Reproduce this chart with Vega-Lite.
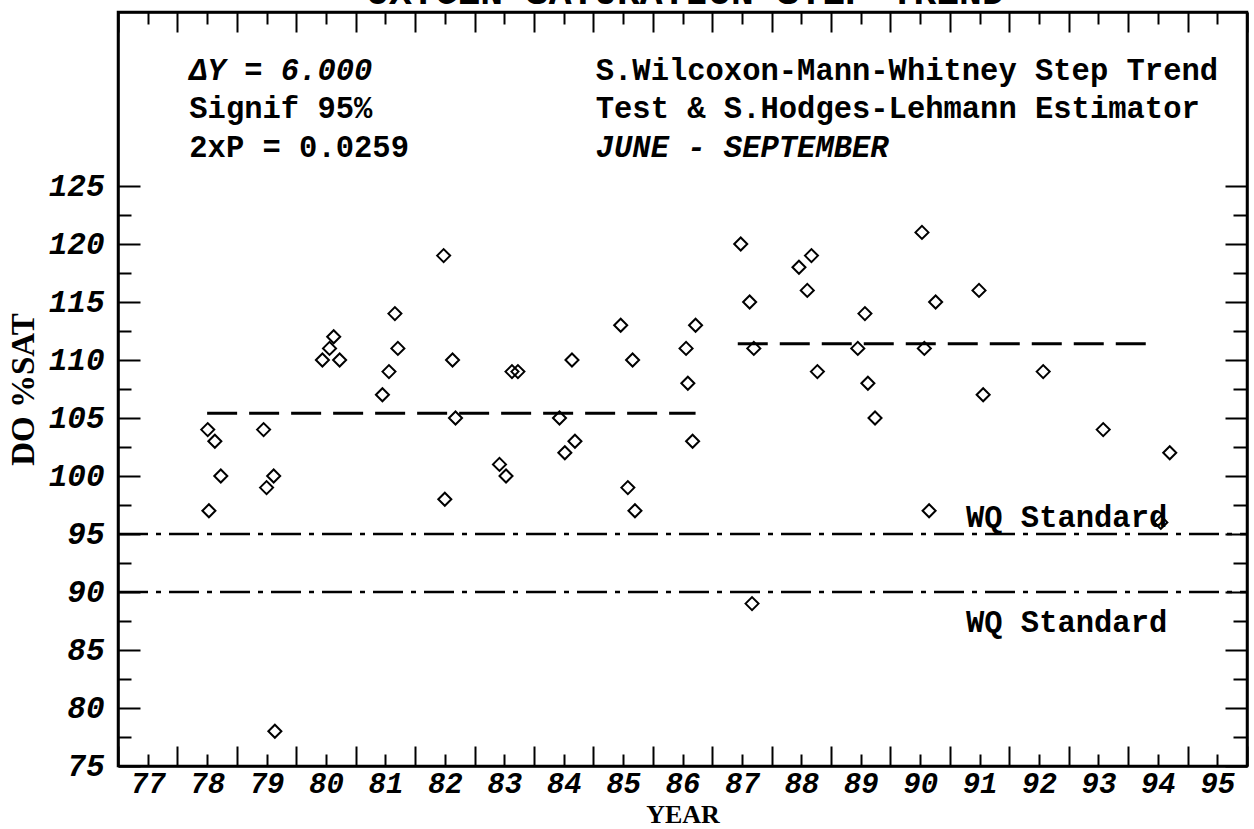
{
  "$schema": "https://vega.github.io/schema/vega-lite/v6.json",
  "autosize": {"type": "none"},
  "padding": {"left": 118, "top": 12, "right": 7, "bottom": 63},
  "width": 1129,
  "height": 754,
  "background": "white",
  "config": {
    "view": {"stroke": "black", "strokeWidth": 2.5},
    "axis": {
      "grid": false,
      "domainColor": "black",
      "domainWidth": 2.5,
      "tickColor": "black",
      "tickWidth": 2,
      "labelColor": "black",
      "titleColor": "black",
      "labelFont": "Liberation Mono",
      "labelFontStyle": "italic",
      "labelFontWeight": "bold",
      "labelFontSize": 31,
      "labelOverlap": false,
      "labelFlush": false,
      "titleFont": "Liberation Serif",
      "titleFontWeight": "bold"
    }
  },
  "datasets": {
    "pts": [
      {"year": 78.01, "sat": 104}, {"year": 78.13, "sat": 103}, {"year": 78.23, "sat": 100}, {"year": 78.03, "sat": 97},
      {"year": 78.95, "sat": 104}, {"year": 79.0, "sat": 99}, {"year": 79.12, "sat": 100}, {"year": 79.14, "sat": 78},
      {"year": 79.94, "sat": 110}, {"year": 80.06, "sat": 111}, {"year": 80.13, "sat": 112}, {"year": 80.23, "sat": 110},
      {"year": 80.95, "sat": 107}, {"year": 81.06, "sat": 109}, {"year": 81.16, "sat": 114}, {"year": 81.21, "sat": 111},
      {"year": 81.98, "sat": 119}, {"year": 82.0, "sat": 98}, {"year": 82.13, "sat": 110}, {"year": 82.18, "sat": 105},
      {"year": 82.92, "sat": 101}, {"year": 83.03, "sat": 100}, {"year": 83.13, "sat": 109}, {"year": 83.23, "sat": 109},
      {"year": 83.93, "sat": 105}, {"year": 84.02, "sat": 102}, {"year": 84.14, "sat": 110}, {"year": 84.19, "sat": 103},
      {"year": 84.96, "sat": 113}, {"year": 85.08, "sat": 99}, {"year": 85.16, "sat": 110}, {"year": 85.2, "sat": 97},
      {"year": 86.06, "sat": 111}, {"year": 86.09, "sat": 108}, {"year": 86.17, "sat": 103}, {"year": 86.22, "sat": 113},
      {"year": 86.98, "sat": 120}, {"year": 87.13, "sat": 115}, {"year": 87.2, "sat": 111}, {"year": 87.17, "sat": 89},
      {"year": 87.96, "sat": 118}, {"year": 88.1, "sat": 116}, {"year": 88.17, "sat": 119}, {"year": 88.27, "sat": 109},
      {"year": 88.95, "sat": 111}, {"year": 89.07, "sat": 114}, {"year": 89.12, "sat": 108}, {"year": 89.24, "sat": 105},
      {"year": 90.03, "sat": 121}, {"year": 90.07, "sat": 111}, {"year": 90.15, "sat": 97}, {"year": 90.26, "sat": 115},
      {"year": 90.99, "sat": 116}, {"year": 91.06, "sat": 107},
      {"year": 92.07, "sat": 109},
      {"year": 93.08, "sat": 104},
      {"year": 94.05, "sat": 96}, {"year": 94.2, "sat": 102}
    ],
    "step": [
      {"start": 78.0, "end": 86.22, "level": 105.4},
      {"start": 86.93, "end": 93.99, "level": 111.4}
    ],
    "standard": [
      {"start": 76.5, "end": 95.5, "level": 95},
      {"start": 76.5, "end": 95.5, "level": 90}
    ],
    "notesItalic": [
      {"year": 77.7, "value": 134.14, "text": "ΔY = 6.000"},
      {"year": 84.54, "value": 127.5, "text": "JUNE - SEPTEMBER"}
    ],
    "notes": [
      {"year": 77.7, "value": 130.86, "text": "Signif 95%"},
      {"year": 77.7, "value": 127.5, "text": "2xP = 0.0259"},
      {"year": 84.54, "value": 134.14, "text": "S.Wilcoxon-Mann-Whitney Step Trend"},
      {"year": 84.54, "value": 130.86, "text": "Test & S.Hodges-Lehmann Estimator"},
      {"year": 90.77, "value": 95.6, "text": "WQ Standard"},
      {"year": 90.77, "value": 86.55, "text": "WQ Standard"}
    ],
    "heading": [
      {"year": 86.05, "value": 140.7, "text": "OXYGEN SATURATION STEP TREND"}
    ]
  },
  "resolve": {"axis": {"x": "independent", "y": "independent"}},
  "layer": [
    {
      "data": {"name": "pts"},
      "mark": {"type": "point", "shape": "diamond", "filled": false, "stroke": "black", "strokeWidth": 2, "size": 170, "opacity": 1},
      "encoding": {
        "x": {
          "field": "year", "type": "quantitative",
          "scale": {"domain": [76.5, 95.5], "nice": false, "zero": false},
          "axis": {
            "orient": "bottom",
            "title": "YEAR",
            "titleFontSize": 26,
            "titlePadding": 3,
            "values": [76.5, 77, 77.5, 78, 78.5, 79, 79.5, 80, 80.5, 81, 81.5, 82, 82.5, 83, 83.5, 84, 84.5, 85, 85.5, 86, 86.5, 87, 87.5, 88, 88.5, 89, 89.5, 90, 90.5, 91, 91.5, 92, 92.5, 93, 93.5, 94, 94.5, 95, 95.5],
            "labelExpr": "datum.value % 1 === 0 ? format(datum.value, 'd') : ''",
            "labelFontSize": 29,
            "tickSize": {"condition": {"test": "datum.value % 1 !== 0", "value": -20}, "value": -12},
            "labelPadding": 15
          }
        },
        "y": {
          "field": "sat", "type": "quantitative",
          "scale": {"domain": [75, 140], "nice": false, "zero": false},
          "axis": {
            "orient": "left",
            "title": "DO %SAT",
            "titleFontSize": 33,
            "titlePadding": 8,
            "values": [75, 77.5, 80, 82.5, 85, 87.5, 90, 92.5, 95, 97.5, 100, 102.5, 105, 107.5, 110, 112.5, 115, 117.5, 120, 122.5, 125],
            "labelExpr": "datum.value % 5 === 0 ? format(datum.value, 'd') : ''",
            "tickSize": {"condition": {"test": "datum.value % 5 === 0", "value": -22}, "value": -13},
            "labelPadding": 36
          }
        }
      }
    },
    {
      "data": {"name": "standard"},
      "mark": {"type": "rule", "stroke": "black", "strokeWidth": 2.5, "strokeDash": [30, 8, 5, 8]},
      "encoding": {
        "x": {
          "field": "start", "type": "quantitative",
          "axis": {
            "orient": "top", "title": null, "labels": false,
            "values": [76.5, 77, 77.5, 78, 78.5, 79, 79.5, 80, 80.5, 81, 81.5, 82, 82.5, 83, 83.5, 84, 84.5, 85, 85.5, 86, 86.5, 87, 87.5, 88, 88.5, 89, 89.5, 90, 90.5, 91, 91.5, 92, 92.5, 93, 93.5, 94, 94.5, 95, 95.5],
            "tickSize": {"condition": {"test": "datum.value % 1 !== 0", "value": -20}, "value": -12}
          }
        },
        "x2": {"field": "end"},
        "y": {
          "field": "level", "type": "quantitative",
          "axis": {
            "orient": "right", "title": null, "labels": false,
            "values": [75, 77.5, 80, 82.5, 85, 87.5, 90, 92.5, 95, 97.5, 100, 102.5, 105, 107.5, 110, 112.5, 115, 117.5, 120, 122.5, 125],
            "tickSize": {"condition": {"test": "datum.value % 5 === 0", "value": -22}, "value": -14}
          }
        }
      }
    },
    {
      "data": {"name": "step"},
      "mark": {"type": "rule", "stroke": "black", "strokeWidth": 3, "strokeDash": [30, 12]},
      "encoding": {
        "x": {"field": "start", "type": "quantitative", "axis": null},
        "x2": {"field": "end"},
        "y": {"field": "level", "type": "quantitative", "axis": null}
      }
    },
    {
      "data": {"name": "notesItalic"},
      "mark": {"type": "text", "align": "left", "baseline": "alphabetic", "font": "Liberation Mono", "fontSize": 30.5, "fontWeight": "bold", "fontStyle": "italic", "color": "black"},
      "encoding": {
        "x": {"field": "year", "type": "quantitative", "axis": null},
        "y": {"field": "value", "type": "quantitative", "axis": null},
        "text": {"field": "text"}
      }
    },
    {
      "data": {"name": "notes"},
      "mark": {"type": "text", "align": "left", "baseline": "alphabetic", "font": "Liberation Mono", "fontSize": 30.5, "fontWeight": "bold", "color": "black"},
      "encoding": {
        "x": {"field": "year", "type": "quantitative", "axis": null},
        "y": {"field": "value", "type": "quantitative", "axis": null},
        "text": {"field": "text"}
      }
    },
    {
      "data": {"name": "heading"},
      "mark": {"type": "text", "align": "center", "baseline": "alphabetic", "font": "Liberation Mono", "fontSize": 38, "fontWeight": "bold", "color": "black"},
      "encoding": {
        "x": {"field": "year", "type": "quantitative", "axis": null},
        "y": {"field": "value", "type": "quantitative", "axis": null},
        "text": {"field": "text"}
      }
    }
  ]
}
